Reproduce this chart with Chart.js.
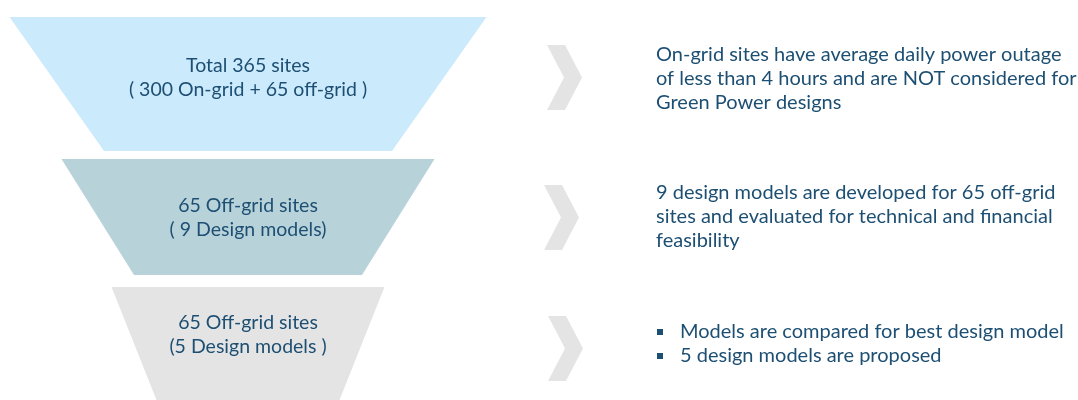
<!DOCTYPE html>
<html>
<head>
<meta charset="utf-8">
<script src="https://cdn.jsdelivr.net/npm/chart.js@4.4.1/dist/chart.umd.min.js"></script>
<style>
  html, body { margin: 0; padding: 0; background: #ffffff; }
  #wrap { width: 1078px; height: 400px; }
</style>
</head>
<body>
<div id="wrap"><canvas id="funnel" width="1078" height="400"></canvas></div>
<script>
// funnel stages (top to bottom)
var stage_titles = ['Total 365 sites', '65 Off-grid sites', '65 Off-grid sites'];
var stage_subtitles = ['( 300 On-grid + 65 off-grid )', '( 9 Design models)', '(5 Design models )'];
var stage_colors = ['#cbeafc', '#b8d2da', '#e4e4e4'];

// notes shown to the right of each stage
var stage_notes = [
  ['On-grid sites have average daily power outage', 'of less than 4 hours and are NOT considered for', 'Green Power designs'],
  ['9 design models are developed for 65 off-grid', 'sites and evaluated for technical and financial', 'feasibility'],
  ['Models are compared for best design model', '5 design models are proposed']
];
var notes_bulleted = [false, false, true];

// layout of the drawing (pixel units on hidden linear axes)
var funnel_center = 248;
var band_top = [17, 159, 287];
var band_bottom = [151, 275, 400];
var half_top = [238.5, 186.5, 136.5];
var half_bottom = [144, 114, 91.5];
var stage_text_y = [66, 206, 323];
var chevron_top = [45, 185, 316];
var chevron_left = [547, 544, 548];
var chevron_height = 65;
var chevron_depth = 17;
var chevron_thick = 18;
var note_left = 656;
var note_first_line = [55, 193, 332];
var line_gap = 24;

var text_color = '#1d4f73';
var font_family = 'Lato, "Open Sans", sans-serif';

function trapezoid(i) {
  return [
    { x: funnel_center - half_top[i], y: band_top[i] },
    { x: funnel_center + half_top[i], y: band_top[i] },
    { x: funnel_center + half_bottom[i], y: band_bottom[i] },
    { x: funnel_center - half_bottom[i], y: band_bottom[i] },
    { x: funnel_center - half_top[i], y: band_top[i] }
  ];
}

function chevron(i) {
  var x0 = chevron_left[i], y0 = chevron_top[i], h = chevron_height;
  return [
    { x: x0, y: y0 },
    { x: x0 + chevron_thick, y: y0 },
    { x: x0 + chevron_thick + chevron_depth, y: y0 + h / 2 },
    { x: x0 + chevron_thick, y: y0 + h },
    { x: x0, y: y0 + h },
    { x: x0 + chevron_depth, y: y0 + h / 2 },
    { x: x0, y: y0 }
  ];
}

var datasets = [];
stage_titles.forEach(function(t, i) {
  datasets.push({
    label: t,
    data: trapezoid(i),
    showLine: true,
    fill: 'shape',
    backgroundColor: stage_colors[i],
    borderWidth: 0,
    pointRadius: 0,
    tension: 0
  });
  datasets.push({
    label: 'arrow ' + i,
    data: chevron(i),
    showLine: true,
    fill: 'shape',
    backgroundColor: '#e4e4e4',
    borderWidth: 0,
    pointRadius: 0,
    tension: 0
  });
});

var labels_plugin = {
  id: 'funnel_labels',
  afterDatasetsDraw: function(chart) {
    var ctx = chart.ctx;
    var xs = chart.scales.x, ys = chart.scales.y;
    ctx.save();
    ctx.fillStyle = text_color;
    ctx.textBaseline = 'middle';
    ctx.font = '19.5px ' + font_family;

    stage_titles.forEach(function(title, i) {
      ctx.textAlign = 'center';
      ctx.fillText(title, xs.getPixelForValue(funnel_center), ys.getPixelForValue(stage_text_y[i]));
      ctx.fillText(stage_subtitles[i], xs.getPixelForValue(funnel_center), ys.getPixelForValue(stage_text_y[i] + line_gap));
    });

    ctx.font = '20px ' + font_family;
    stage_notes.forEach(function(lines, i) {
      lines.forEach(function(line, j) {
        var y = ys.getPixelForValue(note_first_line[i] + j * line_gap);
        ctx.textAlign = 'left';
        if (notes_bulleted[i]) {
          ctx.fillRect(xs.getPixelForValue(note_left + 1), y - 3, 6, 6);
          ctx.fillText(line, xs.getPixelForValue(note_left + 24), y);
        } else {
          ctx.fillText(line, xs.getPixelForValue(note_left), y);
        }
      });
    });
    ctx.restore();
  }
};

new Chart(document.getElementById('funnel').getContext('2d'), {
  type: 'scatter',
  data: { datasets: datasets },
  options: {
    responsive: false,
    animation: false,
    layout: { padding: 0 },
    scales: {
      x: { type: 'linear', min: 0, max: 1078, display: false },
      y: { type: 'linear', min: 0, max: 400, reverse: true, display: false }
    },
    plugins: {
      legend: { display: false },
      tooltip: { enabled: false }
    }
  },
  plugins: [labels_plugin]
});
</script>
</body>
</html>
